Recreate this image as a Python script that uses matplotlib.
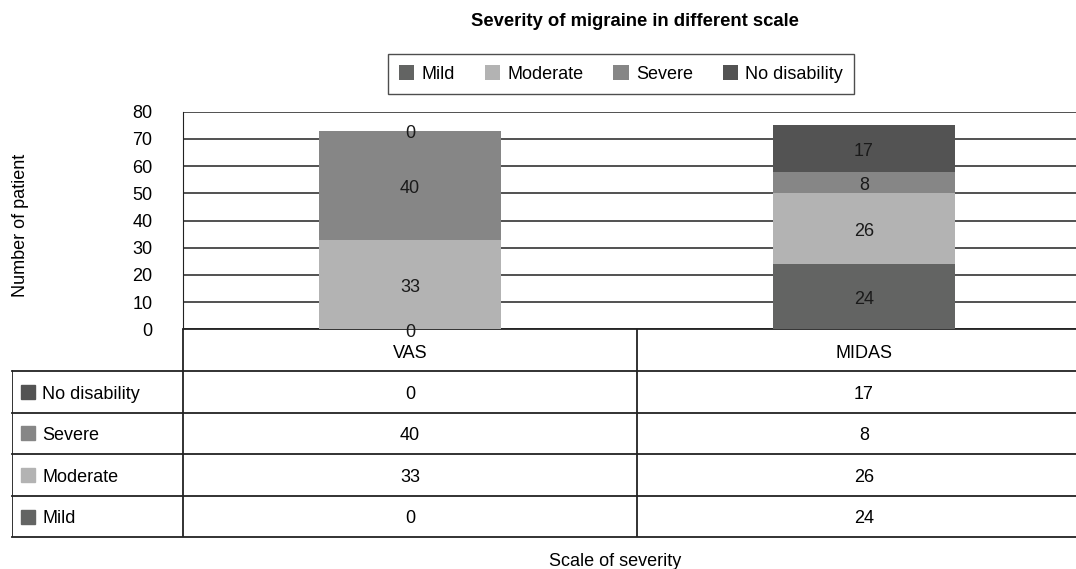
import numpy as np
import matplotlib.pyplot as plt
from matplotlib.patches import Patch

plt.rcParams["font.family"] = ["Liberation Sans", "DejaVu Sans"]
plt.rcParams["font.size"] = 13

# Data
scales = ["VAS", "MIDAS"]
levels = ["Mild", "Moderate", "Severe", "No disability"]
mild = [0, 24]
moderate = [33, 26]
severe = [40, 8]
no_disability = [0, 17]
colors = ["#636463", "#b3b3b3", "#868686", "#535353"]

series = [mild, moderate, severe, no_disability]

W, H = 1076, 569
fig = plt.figure(figsize=(W / 100, H / 100), dpi=100)

# main chart area (right side runs a bit past the figure edge)
ax = fig.add_axes([183 / W, (H - 329.3) / H, 908 / W, 217.6 / H])
x = np.arange(len(scales))
bottom = np.zeros(len(scales))
for name, vals, c in zip(levels, series, colors):
    bars = ax.bar(x, vals, 0.4, bottom=bottom, color=c, label=name, zorder=3)
    anns = ax.bar_label(bars, labels=[str(v) for v in vals],
                        label_type="center", fontsize=13, color="#1a1a1a",
                        zorder=4)
    for a in anns:
        a.xyann = (0, -2.2)
    bottom += np.array(vals)

ax.set_xlim(-0.5, 1.5)
ax.set_ylim(0, 80)
ax.set_yticks(range(0, 81, 10))
ax.yaxis.grid(True, color="#333333", linewidth=1.2, zorder=0)
ax.tick_params(axis="y", length=0, pad=22, labelsize=13)
ax.set_xticks([])
for s in ["top", "right"]:
    ax.spines[s].set_visible(False)
ax.spines["left"].set_color("#222222")
ax.spines["bottom"].set_color("#222222")
ax.spines["bottom"].set_linewidth(1.3)

# data table under the chart
tab = fig.add_axes([12.3 / W, (H - 537.3) / H, (1091 - 12.3) / W, 208 / H])
left = -0.5 - (183 - 12.3) / 454
tab.set_xlim(left, 1.5)
tab.set_ylim(5, 0)
tab.axis("off")
lc = "#222222"
for r in range(1, 6):
    tab.plot([left, 1.5], [r, r], color=lc, lw=1.3, clip_on=False)
tab.plot([-0.5, -0.5], [0, 5], color=lc, lw=1.3)
tab.plot([0.5, 0.5], [0, 5], color=lc, lw=1.3)
tab.plot([left, left], [1, 5], color=lc, lw=1.3)

for i, s in enumerate(scales):
    tab.text(i, 0.57, s, ha="center", va="center", fontsize=13)

row_order = list(range(len(levels)))[::-1]
for r, k in enumerate(row_order, start=1):
    yy = r + 0.56
    tab.plot(left + 0.035, r + 0.5, marker="s", ms=10.5, color=colors[k],
             linestyle="none")
    tab.text(left + 0.066, yy, levels[k], ha="left", va="center", fontsize=13)
    for i in range(len(scales)):
        tab.text(i, yy, str(series[k][i]), ha="center", va="center",
                 fontsize=13)

# legend, title and axis labels
handles = [Patch(facecolor=c, label=n) for n, c in zip(levels, colors)]
fig.legend(handles=handles, loc="center", ncol=4,
           bbox_to_anchor=(621 / W, 1 - 74 / H), frameon=True,
           fancybox=False, edgecolor="#222222", fontsize=13,
           handlelength=0.85, handleheight=0.85, handletextpad=0.4,
           columnspacing=1.65, borderpad=0.6)
fig.text(635 / W, 1 - 21 / H, "Severity of migraine in different scale",
         ha="center", va="center", fontsize=13.3, fontweight="bold")
fig.text(21 / W, 1 - 225 / H, "Number of patient", rotation=90,
         ha="center", va="center", fontsize=13)
fig.text(615 / W, 1 - 561 / H, "Scale of severity", ha="center",
         va="center", fontsize=13)

fig.savefig("out.png", dpi=100)
